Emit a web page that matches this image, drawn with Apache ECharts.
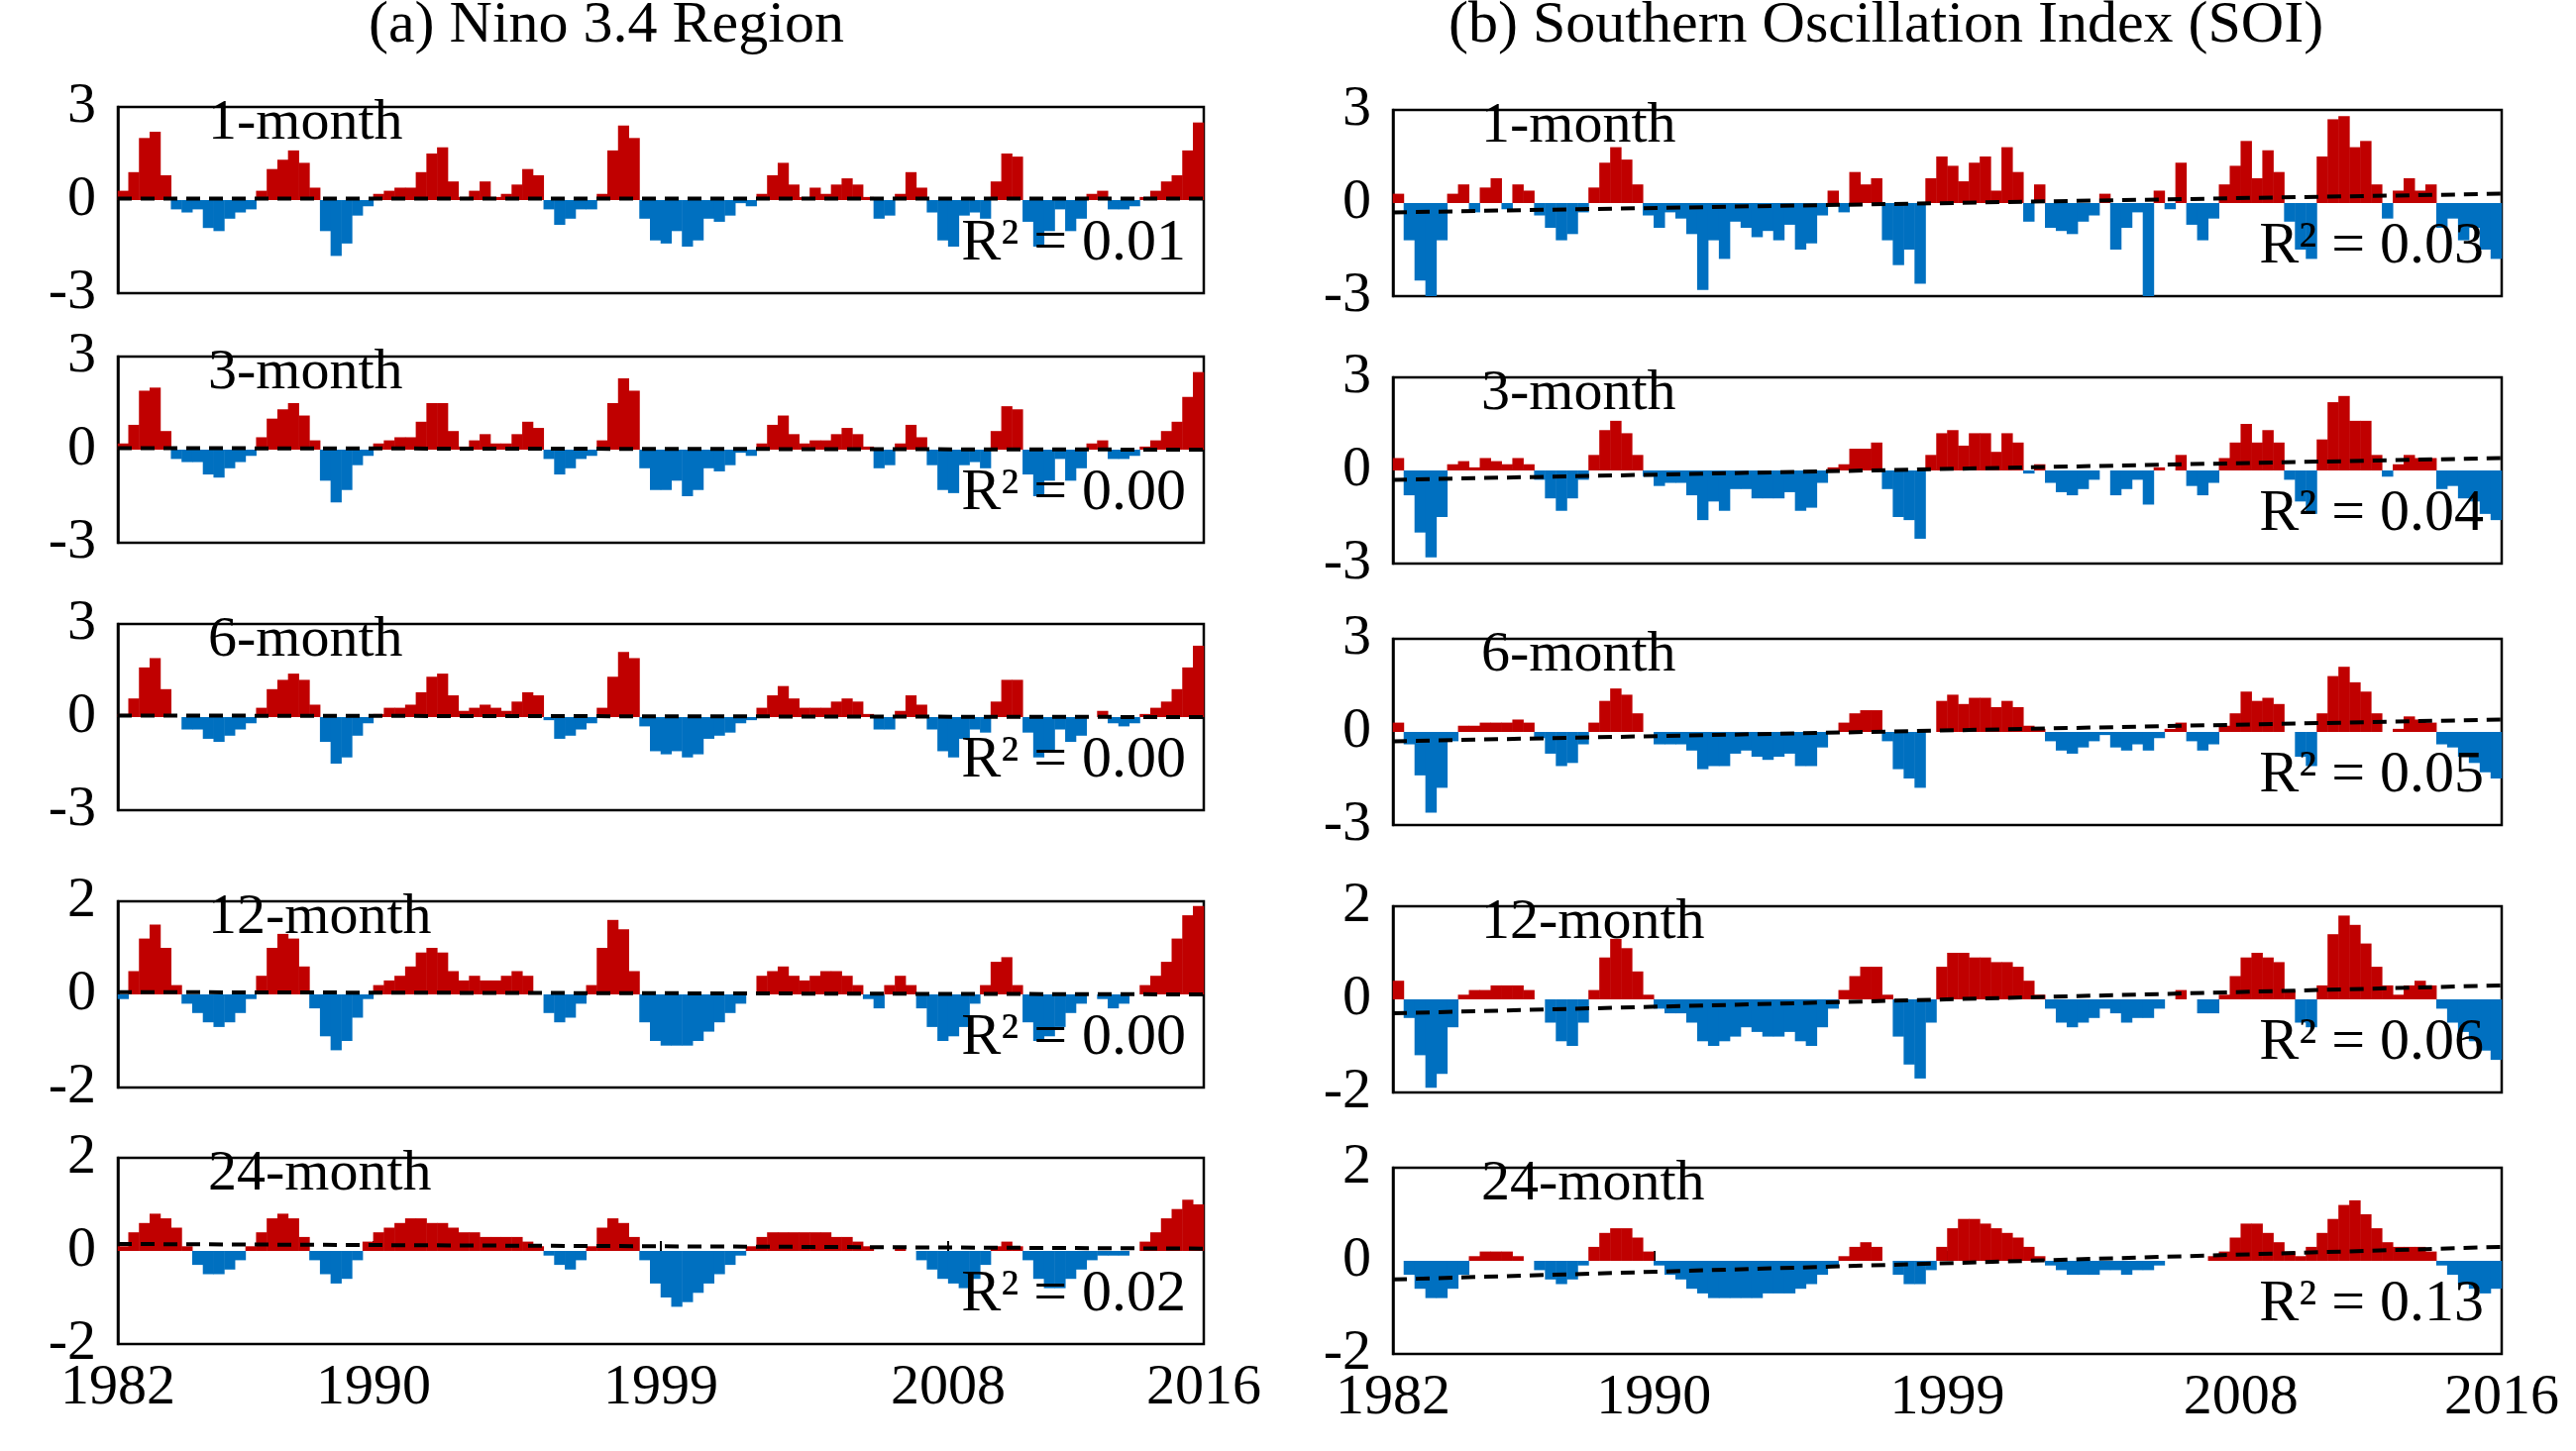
<!DOCTYPE html>
<html>
<head>
<meta charset="utf-8">
<script src="https://cdn.jsdelivr.net/npm/echarts@6/dist/echarts.min.js"></script>
<style>html,body{margin:0;background:#fff}#c{width:2600px;height:1465px}</style>
</head>
<body>
<div id="c"></div>
<script>
// three values per year, 1982-2015
var nino1 = [0.3,0.9,2.0, 2.2,0.8,-0.3, -0.4,-0.3,-0.9, -1.0,-0.6,-0.4, -0.3,0.3,1.0, 1.3,1.6,1.2, 0.4,-1.0,-1.8, -1.4,-0.5,-0.2, 0.2,0.3,0.4, 0.4,0.9,1.5, 1.7,0.6,0.1, 0.3,0.6,0.1, 0.2,0.5,1.0, 0.8,-0.3,-0.8, -0.6,-0.3,-0.3, 0.2,1.6,2.4, 2.0,-0.6,-1.3, -1.4,-1.0,-1.5, -1.3,-0.6,-0.7, -0.5,-0.1,-0.2, 0.2,0.8,1.2, 0.5,0.1,0.4, 0.2,0.5,0.7, 0.5,0.1,-0.6, -0.5,0.2,0.9, 0.4,-0.4,-1.3, -1.5,-0.5,-0.4, -0.6,0.6,1.5, 1.4,-0.7,-1.5, -1.0,-0.3,-1.0, -0.6,0.2,0.3, -0.3,-0.3,-0.2, 0.1,0.3,0.6, 0.8,1.6,2.5];
var nino3 = [0.2,0.8,1.9, 2.0,0.6,-0.3, -0.4,-0.4,-0.8, -0.9,-0.6,-0.4, -0.2,0.4,1.0, 1.3,1.5,1.1, 0.3,-1.0,-1.7, -1.3,-0.5,-0.2, 0.2,0.3,0.4, 0.4,0.9,1.5, 1.5,0.6,0.1, 0.3,0.5,0.2, 0.2,0.5,0.9, 0.7,-0.3,-0.8, -0.6,-0.3,-0.2, 0.3,1.5,2.3, 1.9,-0.6,-1.3, -1.3,-1.0,-1.5, -1.3,-0.6,-0.7, -0.5,-0.1,-0.2, 0.2,0.8,1.1, 0.5,0.2,0.3, 0.3,0.5,0.7, 0.5,0.1,-0.6, -0.5,0.2,0.8, 0.4,-0.5,-1.3, -1.4,-0.5,-0.4, -0.6,0.6,1.4, 1.3,-0.8,-1.5, -1.0,-0.3,-1.0, -0.6,0.2,0.3, -0.3,-0.3,-0.2, 0.1,0.3,0.6, 0.9,1.7,2.5];
var nino6 = [0.1,0.6,1.6, 1.9,0.9,0.0, -0.4,-0.4,-0.7, -0.8,-0.6,-0.4, -0.2,0.3,0.9, 1.2,1.4,1.2, 0.4,-0.8,-1.5, -1.3,-0.6,-0.2, 0.1,0.3,0.3, 0.4,0.8,1.3, 1.4,0.7,0.2, 0.3,0.4,0.3, 0.2,0.5,0.8, 0.7,-0.1,-0.7, -0.6,-0.4,-0.2, 0.3,1.3,2.1, 1.9,-0.3,-1.1, -1.2,-1.1,-1.3, -1.2,-0.7,-0.6, -0.5,-0.2,-0.1, 0.3,0.7,1.0, 0.6,0.3,0.3, 0.3,0.5,0.6, 0.5,0.1,-0.4, -0.4,0.2,0.7, 0.4,-0.4,-1.1, -1.3,-0.7,-0.4, -0.5,0.5,1.2, 1.2,-0.5,-1.3, -1.1,-0.4,-0.8, -0.6,0.0,0.2, -0.2,-0.3,-0.2, 0.1,0.3,0.5, 0.9,1.6,2.3];
var nino12 = [-0.1,0.5,1.2, 1.5,1.0,0.2, -0.2,-0.4,-0.6, -0.7,-0.6,-0.4, -0.1,0.4,1.0, 1.3,1.2,0.6, -0.3,-0.9,-1.2, -1.0,-0.5,-0.1, 0.2,0.3,0.4, 0.6,0.9,1.0, 0.9,0.5,0.3, 0.4,0.3,0.3, 0.4,0.5,0.4, 0.0,-0.4,-0.6, -0.5,-0.2,0.2, 1.0,1.6,1.4, 0.5,-0.6,-1.0, -1.1,-1.1,-1.1, -1.0,-0.8,-0.6, -0.4,-0.2,0.0, 0.4,0.5,0.6, 0.4,0.3,0.4, 0.5,0.5,0.4, 0.2,-0.1,-0.3, 0.2,0.4,0.2, -0.3,-0.7,-1.0, -0.9,-0.7,-0.2, 0.2,0.7,0.8, 0.2,-0.6,-1.0, -0.9,-0.7,-0.4, -0.2,0.0,-0.1, -0.3,-0.2,0.0, 0.2,0.4,0.7, 1.2,1.7,1.9];
var nino24 = [0.1,0.4,0.6, 0.8,0.7,0.5, 0.1,-0.3,-0.5, -0.5,-0.4,-0.2, 0.1,0.4,0.7, 0.8,0.7,0.3, -0.2,-0.5,-0.7, -0.6,-0.2,0.2, 0.4,0.5,0.6, 0.7,0.7,0.6, 0.6,0.5,0.4, 0.4,0.3,0.3, 0.3,0.3,0.2, 0.1,-0.1,-0.3, -0.4,-0.2,0.1, 0.5,0.7,0.6, 0.3,-0.2,-0.7, -1.0,-1.2,-1.1, -0.9,-0.7,-0.5, -0.3,-0.1,0.1, 0.3,0.4,0.4, 0.4,0.4,0.4, 0.4,0.3,0.3, 0.2,0.1,0.0, 0.0,0.1,0.0, -0.2,-0.4,-0.6, -0.7,-0.8,-0.6, -0.3,0.1,0.2, 0.1,-0.2,-0.6, -0.8,-0.8,-0.6, -0.4,-0.2,-0.1, -0.1,-0.1,0.0, 0.2,0.4,0.7, 0.9,1.1,1.0];

var soi1 = [0.3,-1.2,-2.5, -3.0,-1.2,0.3, 0.6,-0.3,0.5, 0.8,-0.2,0.6, 0.4,-0.4,-0.8, -1.2,-1.0,-0.3, 0.5,1.3,1.8, 1.4,0.6,-0.4, -0.8,-0.3,-0.5, -1.0,-2.8,-1.2, -1.8,-0.6,-0.8, -1.1,-0.9,-1.2, -0.7,-1.5,-1.3, -0.4,0.4,-0.3, 1.0,0.6,0.8, -1.2,-2.0,-1.5, -2.6,0.8,1.5, 1.2,0.7,1.3, 1.5,0.4,1.8, 1.0,-0.6,0.6, -0.8,-0.9,-1.0, -0.6,-0.4,0.3, -1.5,-0.8,-0.3, -3.0,0.4,-0.2, 1.3,-0.7,-1.2, -0.5,0.6,1.2, 2.0,0.8,1.7, 1.0,-0.6,-1.5, -1.8,1.5,2.7, 2.8,1.8,2.0, 0.6,-0.5,0.4, 0.8,0.4,0.6, -0.8,-0.5,-1.2, -0.8,-1.5,-1.8];
var soi3 = [0.4,-0.8,-2.0, -2.8,-1.5,0.2, 0.3,0.1,0.4, 0.3,0.2,0.4, 0.2,-0.3,-0.9, -1.3,-0.9,-0.3, 0.5,1.3,1.6, 1.2,0.5,-0.2, -0.5,-0.4,-0.4, -0.8,-1.6,-1.0, -1.3,-0.6,-0.6, -0.9,-0.9,-0.9, -0.7,-1.3,-1.2, -0.4,0.1,0.2, 0.7,0.7,0.9, -0.6,-1.5,-1.6, -2.2,0.5,1.2, 1.3,0.8,1.2, 1.2,0.6,1.2, 0.9,-0.1,0.2, -0.4,-0.7,-0.8, -0.6,-0.3,0.0, -0.8,-0.6,-0.3, -1.1,0.1,0.0, 0.5,-0.5,-0.8, -0.4,0.4,0.9, 1.5,0.9,1.3, 0.9,-0.3,-1.0, -1.4,1.0,2.2, 2.4,1.6,1.6, 0.5,-0.2,0.2, 0.5,0.4,0.4, -0.6,-0.5,-0.9, -1.0,-1.4,-1.6];
var soi6 = [0.3,-0.4,-1.4, -2.6,-1.8,-0.3, 0.2,0.2,0.3, 0.3,0.3,0.4, 0.3,-0.2,-0.7, -1.1,-1.0,-0.4, 0.3,1.0,1.4, 1.2,0.6,0.0, -0.4,-0.4,-0.4, -0.6,-1.2,-1.1, -1.1,-0.7,-0.6, -0.8,-0.9,-0.8, -0.7,-1.1,-1.1, -0.5,0.0,0.3, 0.6,0.7,0.7, -0.3,-1.2,-1.5, -1.8,0.0,1.0, 1.2,0.9,1.1, 1.1,0.8,1.0, 0.8,0.2,0.1, -0.3,-0.6,-0.7, -0.5,-0.3,-0.1, -0.5,-0.6,-0.4, -0.6,-0.2,0.1, 0.3,-0.3,-0.6, -0.4,0.2,0.6, 1.3,1.0,1.1, 0.9,0.0,-0.8, -1.1,0.6,1.8, 2.1,1.6,1.3, 0.6,0.0,0.1, 0.5,0.4,0.3, -0.4,-0.5,-0.8, -1.0,-1.3,-1.5];
var soi12 = [0.4,-0.4,-1.2, -1.9,-1.6,-0.6, 0.1,0.2,0.2, 0.3,0.3,0.3, 0.2,0.0,-0.5, -0.9,-1.0,-0.5, 0.2,0.9,1.3, 1.1,0.6,0.1, -0.2,-0.3,-0.3, -0.5,-0.9,-1.0, -0.9,-0.8,-0.6, -0.7,-0.8,-0.8, -0.7,-0.9,-1.0, -0.6,-0.2,0.2, 0.5,0.7,0.7, 0.1,-0.8,-1.4, -1.7,-0.5,0.7, 1.0,1.0,0.9, 0.9,0.8,0.8, 0.7,0.4,0.1, -0.2,-0.5,-0.6, -0.5,-0.4,-0.2, -0.3,-0.5,-0.4, -0.4,-0.2,0.0, 0.2,0.0,-0.3, -0.3,0.1,0.5, 0.9,1.0,0.9, 0.8,0.2,-0.5, -0.6,0.3,1.4, 1.8,1.6,1.2, 0.7,0.3,0.1, 0.3,0.4,0.3, -0.2,-0.5,-0.7, -0.9,-1.1,-1.3];
var soi24 = [0.0,-0.3,-0.6, -0.8,-0.8,-0.6, -0.3,0.1,0.2, 0.2,0.2,0.1, 0.0,-0.2,-0.4, -0.5,-0.4,-0.1, 0.3,0.6,0.7, 0.7,0.5,0.2, -0.1,-0.3,-0.4, -0.6,-0.7,-0.8, -0.8,-0.8,-0.8, -0.8,-0.7,-0.7, -0.7,-0.6,-0.5, -0.3,-0.1,0.1, 0.3,0.4,0.3, 0.0,-0.3,-0.5, -0.5,-0.2,0.3, 0.7,0.9,0.9, 0.8,0.7,0.6, 0.5,0.3,0.1, -0.1,-0.2,-0.3, -0.3,-0.3,-0.2, -0.2,-0.3,-0.2, -0.2,-0.1,0.0, 0.0,0.0,0.0, 0.1,0.2,0.5, 0.8,0.8,0.6, 0.4,0.2,0.1, 0.3,0.6,0.9, 1.2,1.3,1.0, 0.7,0.4,0.3, 0.3,0.3,0.2, -0.1,-0.3,-0.5, -0.6,-0.7,-0.6];

var windows = ['1-month', '3-month', '6-month', '12-month', '24-month'];
var ninoSeries = [nino1, nino3, nino6, nino12, nino24];
var soiSeries = [soi1, soi3, soi6, soi12, soi24];
var ninoR2 = ['0.01', '0.00', '0.00', '0.00', '0.02'];
var soiR2 = ['0.03', '0.04', '0.05', '0.06', '0.13'];
var ninoTrend = [[0.05, 0.05], [0.05, 0.0], [0.05, 0.0], [0.05, 0.0], [0.15, 0.05]];
var soiTrend = [[-0.3, 0.3], [-0.3, 0.4], [-0.3, 0.4], [-0.3, 0.3], [-0.4, 0.3]];
var yLimit = [3, 3, 3, 2, 2];
var xLabels = [1982, 1990, 1999, 2008, 2016];

var font = 'Liberation Serif';
var cols = [
  { left: 119, width: 1096, tops: [108, 360, 630, 910, 1169], h: 188, series: ninoSeries, r2: ninoR2, trend: ninoTrend, labelX: 330 },
  { left: 1406, width: 1119, tops: [111, 381, 645, 915, 1179], h: 188, series: soiSeries, r2: soiR2, trend: soiTrend, labelX: 1615 }
];

var grid = [], xAxis = [], yAxis = [], series = [], graphic = [];
cols.forEach(function (c, ci) {
  c.tops.forEach(function (top, i) {
    var k = grid.length;
    var last = i === 4;
    grid.push({ left: c.left, top: top, width: c.width, height: c.h, show: true, borderColor: '#000', borderWidth: 2.5, backgroundColor: 'transparent' });
    xAxis.push({
      type: 'value', gridIndex: k, min: 1982, max: 2016,
      axisLine: { show: false }, splitLine: { show: false },
      axisTick: { show: last, inside: true, length: 10, customValues: xLabels, lineStyle: { color: '#000', width: 2 } },
      axisLabel: { show: last, customValues: xLabels, formatter: function (v) { return String(v); }, fontFamily: font, fontSize: 58, color: '#000', margin: 16 }
    });
    yAxis.push({
      type: 'value', gridIndex: k, min: -yLimit[i], max: yLimit[i], interval: yLimit[i],
      splitLine: { show: false },
      axisLine: { show: true, onZero: false, lineStyle: { color: '#000', width: 2.5 } },
      axisTick: { show: false },
      axisLabel: { fontFamily: font, fontSize: 58, color: '#000', margin: 22 }
    });
    var vals = c.series[i];
    series.push({
      type: 'bar', xAxisIndex: k, yAxisIndex: k, barWidth: c.width / vals.length + 0.5,
      data: vals.map(function (v, j) { return [1982 + (j + 0.5) / 3, v]; }),
      itemStyle: { color: function (p) { return p.value[1] >= 0 ? '#C00000' : '#0070C0'; } },
      silent: true
    });
    series.push({
      type: 'line', xAxisIndex: k, yAxisIndex: k, symbol: 'none', silent: true,
      data: [[1982, c.trend[i][0]], [2016, c.trend[i][1]]],
      lineStyle: { color: '#000', width: 4, type: [14, 9] }, z: 5
    });
    graphic.push({ type: 'text', left: c.labelX - 120, top: top - 12, z: 10,
      style: { text: windows[i], font: '58px "' + font + '"', fill: '#000' } });
    graphic.push({ type: 'text', right: 2600 - c.left - c.width + 18, top: top + c.h - 80, z: 10,
      style: { text: 'R\u00b2 = ' + c.r2[i], font: '60px "' + font + '"', fill: '#000' } });
  });
});
graphic.push({ type: 'text', left: 372, top: -4, style: { text: '(a) Nino 3.4 Region', font: '60px "' + font + '"', fill: '#000' } });
graphic.push({ type: 'text', left: 1462, top: -4, style: { text: '(b) Southern Oscillation Index (SOI)', font: '60px "' + font + '"', fill: '#000' } });

var chart = echarts.init(document.getElementById('c'));
chart.setOption({ animation: false, backgroundColor: '#fff', grid: grid, xAxis: xAxis, yAxis: yAxis, series: series, graphic: graphic });
</script>
</body>
</html>
